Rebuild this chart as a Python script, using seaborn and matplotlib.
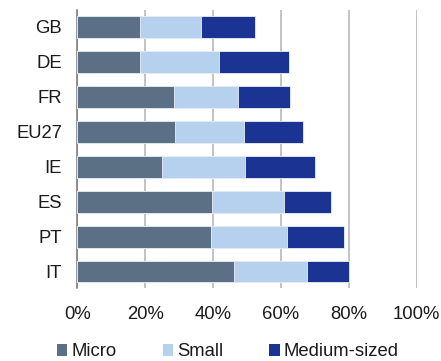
import numpy as np
import pandas as pd
import matplotlib
matplotlib.use("Agg")
import matplotlib.pyplot as plt
from matplotlib.patches import Patch
import seaborn as sns

countries = ["GB", "DE", "FR", "EU27", "IE", "ES", "PT", "IT"]
micro = [18.5, 18.5, 28.5, 28.7, 24.9, 39.8, 39.4, 46.2]
small = [18.0, 23.3, 19.0, 20.5, 24.6, 21.2, 22.3, 21.4]
medium = [15.9, 20.6, 15.2, 17.2, 20.4, 13.8, 16.9, 12.4]
series = ["Micro", "Small", "Medium-sized"]
colors = ["#5b7085", "#b5d1ee", "#1b3393"]
xticks = [0, 20, 40, 60, 80, 100]

df = pd.DataFrame({"country": countries, "Micro": micro, "Small": small,
                   "Medium-sized": medium})
df["c1"] = df["Micro"]
df["c2"] = df["c1"] + df["Small"]
df["c3"] = df["c2"] + df["Medium-sized"]

sns.set_style("white")
plt.rcParams["font.family"] = ["Liberation Sans", "DejaVu Sans"]

fig = plt.figure(figsize=(4.41, 3.61), dpi=100)
ax = fig.add_axes([0.175, 0.202, 0.770, 0.770])

# stacked bars: draw cumulative totals from the outside in
for col, color in zip(["c3", "c2", "c1"], colors[::-1]):
    sns.barplot(data=df, x=col, y="country", orient="h", color=color,
                width=0.62, edgecolor="#e8eef6", linewidth=0.6, ax=ax,
                saturation=1, zorder=3)

ax.set_xlim(0, 100)
ax.set_ylim(7.47, -0.48)
ax.set_xticks(xticks)
ax.set_xticklabels([f"{t}%" for t in xticks])
ax.set_xlabel("")
ax.set_ylabel("")
ax.grid(axis="x", color="#b3b3b3", linewidth=1.1, zorder=0)
ax.set_axisbelow(True)
for s in ["top", "right", "bottom"]:
    ax.spines[s].set_visible(False)
ax.spines["left"].set_color("#777777")
ax.spines["left"].set_linewidth(1.1)
ax.tick_params(axis="x", length=0, pad=13, labelsize=13.3, labelcolor="#1a1a1a")
ax.tick_params(axis="y", length=0, pad=11, labelsize=13.3, labelcolor="#1a1a1a")

handles = [Patch(facecolor=c, edgecolor="none", label=l) for c, l in zip(colors, series)]
fig.legend(handles=handles, loc="center left", bbox_to_anchor=(0.13, 0.025),
           ncol=3, frameon=False, fontsize=13.3, handlelength=0.55,
           handleheight=0.55, handletextpad=0.22, columnspacing=2.5,
           borderaxespad=0, borderpad=0, labelcolor="#1a1a1a")

fig.savefig("out.png", dpi=100)
